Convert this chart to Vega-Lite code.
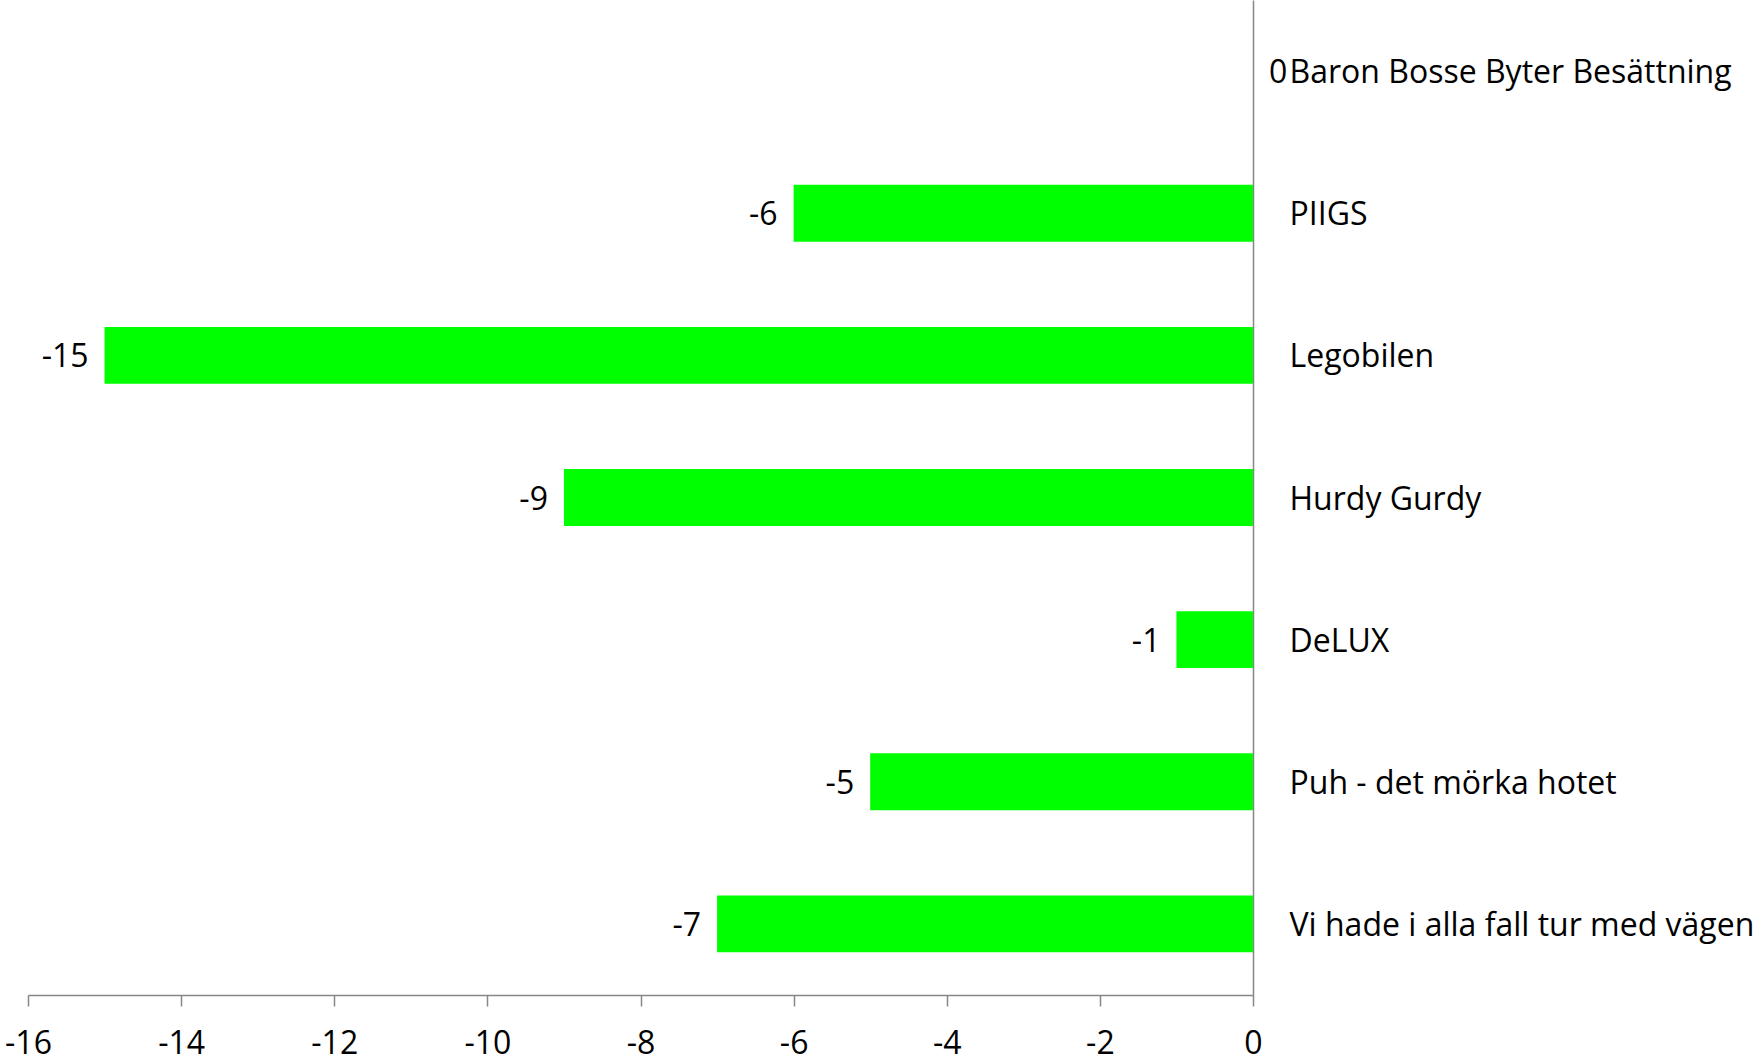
{
  "$schema": "https://vega.github.io/schema/vega-lite/v6.json",
  "autosize": "none",
  "width": 1225,
  "height": 995,
  "padding": {"left": 28, "right": 510, "top": 0, "bottom": 69},
  "background": "white",
  "config": {"view": {"stroke": null}, "font": "Open Sans"},
  "data": {"values": [
    {"title": "Baron Bosse Byter Besättning", "value": 0},
    {"title": "PIIGS", "value": -6},
    {"title": "Legobilen", "value": -15},
    {"title": "Hurdy Gurdy", "value": -9},
    {"title": "DeLUX", "value": -1},
    {"title": "Puh - det mörka hotet", "value": -5},
    {"title": "Vi hade i alla fall tur med vägen", "value": -7}
  ]},
  "encoding": {
    "y": {
      "field": "title", "type": "nominal", "sort": null,
      "scale": {"paddingInner": 0.6, "paddingOuter": 0.3},
      "axis": {
        "orient": "right", "title": null, "ticks": false,
        "labelPadding": 36, "labelFontSize": 32, "labelColor": "black",
        "labelFont": "Open Sans", "labelLimit": 1000, "labelOffset": 2,
        "domainColor": "#868686", "domainWidth": 1.5
      }
    },
    "x": {
      "field": "value", "type": "quantitative",
      "scale": {"domain": [-16, 0], "nice": false, "zero": true},
      "axis": {
        "title": null, "grid": false, "values": [-16,-14,-12,-10,-8,-6,-4,-2,0],
        "labelExpr": "'' + datum.value",
        "tickSize": 11, "tickColor": "#868686", "tickWidth": 1.5,
        "domainColor": "#868686", "domainWidth": 1.5,
        "labelFontSize": 32, "labelColor": "black", "labelPadding": 22,
        "labelFont": "Open Sans", "labelFlush": false
      }
    }
  },
  "layer": [
    {"mark": {"type": "bar", "color": "#00FF00"}},
    {
      "transform": [{"filter": "datum.value < 0"}],
      "mark": {"type": "text", "align": "right", "baseline": "middle", "dx": -16, "dy": 2, "fontSize": 32, "color": "black", "font": "Open Sans"},
      "encoding": {"text": {"field": "value", "type": "nominal"}}
    },
    {
      "transform": [{"filter": "datum.value == 0"}],
      "mark": {"type": "text", "align": "left", "baseline": "middle", "dx": 16, "dy": 2, "fontSize": 32, "color": "black", "font": "Open Sans"},
      "encoding": {"text": {"field": "value", "type": "nominal"}}
    }
  ]
}
